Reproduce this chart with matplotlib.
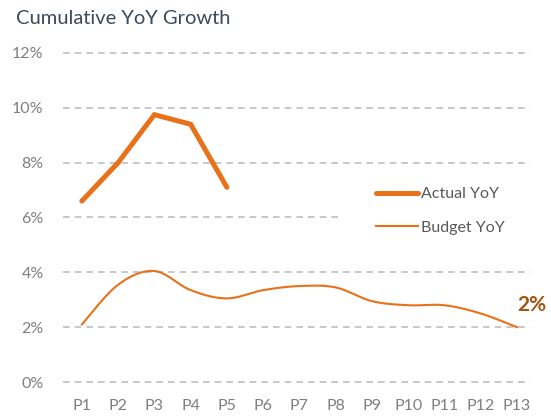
import numpy as np
import matplotlib
matplotlib.use("Agg")
import matplotlib.pyplot as plt
from matplotlib.patches import Rectangle

periods = ["P1", "P2", "P3", "P4", "P5", "P6", "P7", "P8", "P9", "P10", "P11", "P12", "P13"]
actual_yoy = [6.6, 8.0, 9.75, 9.4, 7.1]
budget_yoy = [2.1, 3.55, 4.05, 3.35, 3.05, 3.35, 3.5, 3.45, 2.95, 2.8, 2.8, 2.5, 2.0]
y_ticks = [0, 2, 4, 6, 8, 10, 12]
y_tick_labels = ["0%", "2%", "4%", "6%", "8%", "10%", "12%"]
end_label = "2%"

ORANGE = "#E8711A"
GRID = "#BFBFBF"
TICK = "#7F7F7F"

def smooth(xs, ys, n=20):
    xs = np.asarray(xs, float); ys = np.asarray(ys, float)
    px = np.concatenate([[xs[0]], xs, [xs[-1]]])
    py = np.concatenate([[ys[0]], ys, [ys[-1]]])
    ox, oy = [], []
    t = np.linspace(0, 1, n, endpoint=False)
    for i in range(1, len(px) - 2):
        p0, p1, p2, p3 = py[i-1], py[i], py[i+1], py[i+2]
        x0, x1, x2, x3 = px[i-1], px[i], px[i+1], px[i+2]
        for arr, (a, b, c, d) in ((ox, (x0, x1, x2, x3)), (oy, (p0, p1, p2, p3))):
            arr.extend(0.5 * ((2*b) + (-a + c)*t + (2*a - 5*b + 4*c - d)*t**2 + (-a + 3*b - 3*c + d)*t**3))
    ox.append(xs[-1]); oy.append(ys[-1])
    return np.array(ox), np.array(oy)

plt.rcParams['font.family'] = ['Lato', 'DejaVu Sans']

fig = plt.figure(figsize=(5.51, 4.2), dpi=100)
ax = fig.add_axes([63/551, (420-387.5)/420, 467/551, 340/420])

x_all = np.arange(len(periods))
sx, sy = smooth(x_all, budget_yoy)
ax.plot(np.arange(len(actual_yoy)), actual_yoy, color=ORANGE, lw=3.6,
        solid_capstyle='round', solid_joinstyle='miter', label="Actual YoY", zorder=3)
ax.plot(sx, sy, color=ORANGE, lw=1.5, label="Budget YoY", zorder=3)

ax.set_xlim(-0.52, 12.36)
ax.set_ylim(-0.2, 12.2)
ax.set_yticks(y_ticks)
ax.set_yticklabels(y_tick_labels)
ax.set_xticks(x_all)
ax.set_xticklabels(periods)
ax.tick_params(length=0, labelsize=11.5, labelcolor=TICK)
ax.tick_params(axis='y', pad=14)
ax.tick_params(axis='x', pad=8)
for s in ax.spines.values():
    s.set_visible(False)
ax.yaxis.grid(True, color=GRID, lw=1.2, ls=(0, (4, 3)))
ax.set_axisbelow(True)

# white legend background covering part of the 6% gridline
ax.add_patch(Rectangle(((343-63)/467, (387.5-236)/340), (545-343)/467, 36/340,
                       transform=ax.transAxes, facecolor='white', edgecolor='none',
                       clip_on=False, zorder=1.5))

ax.text(len(periods) - 1, budget_yoy[-1] + 0.45, end_label, color="#A3520F",
        fontsize=15, fontweight='bold', ha='left', va='bottom')

leg = ax.legend(loc='upper left', bbox_to_anchor=((376-63)/467, (387.5-187)/340),
                frameon=False, fontsize=11.5, handlelength=2.6, handletextpad=0.2,
                labelspacing=1.2, borderpad=0, borderaxespad=0)
for t in leg.get_texts():
    t.set_color("#595959")

fig.text(16/551, 1 - 18/420, "Cumulative YoY Growth", fontsize=14.5, color="#3B4A5E",
         ha='left', va='center')

fig.savefig("out.png", dpi=100)
